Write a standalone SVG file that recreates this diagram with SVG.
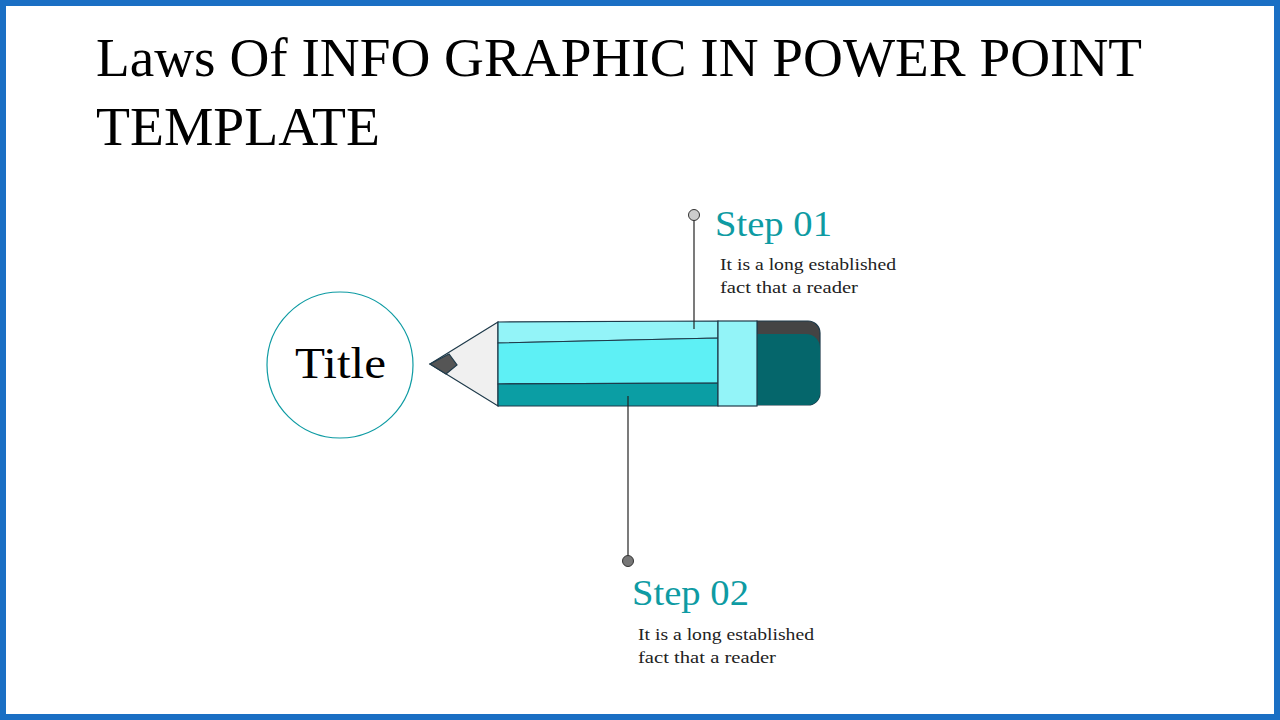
<svg xmlns="http://www.w3.org/2000/svg" width="1280" height="720" viewBox="0 0 1280 720">
<style>
.serif{font-family:"Liberation Serif","DejaVu Serif",serif}
.step{font-size:35px;fill:#0e9ba3}
.desc{font-size:17px;fill:#222}
.ln{stroke:#222;stroke-width:1.2;fill:none}
.o{stroke:#1e3a4a;stroke-width:1.2}
</style>
<rect x="3" y="3" width="1274" height="714" fill="#fff" stroke="#1a6fc4" stroke-width="6"/>
<text class="serif" x="96" y="76" font-size="54" fill="#000" textLength="1046" lengthAdjust="spacingAndGlyphs">Laws Of INFO GRAPHIC IN POWER POINT</text>
<text class="serif" x="96" y="145" font-size="54" fill="#000" textLength="284" lengthAdjust="spacingAndGlyphs">TEMPLATE</text>
<g id="title">
<circle cx="340" cy="365" r="73" fill="#fff" stroke="#0e9ba3" stroke-width="1.2"/>
<text class="serif" x="295" y="378" font-size="45" fill="#000" textLength="91" lengthAdjust="spacingAndGlyphs">Title</text>
</g>
<g id="pencil">
<path d="M757 321 H808 A12 12 0 0 1 820 333 V393 A12 12 0 0 1 808 405 H757 Z" fill="#444" class="o"/>
<path d="M757 334 H806 A14 14 0 0 1 820 348 V393 A12 12 0 0 1 808 405 H757 Z" fill="#05666b"/>
<polygon points="498,322 430,364 498,406" fill="#f0f0f0" class="o"/>
<polygon points="430,364 449,354 457,365 446,374" fill="#555" class="o"/>
<polygon points="498,322 718,321 718,338 498,343" fill="#93f4f8" class="o"/>
<polygon points="498,343 718,338 718,383 498,384" fill="#5ef0f5" class="o"/>
<polygon points="498,384 718,383 718,406 498,406" fill="#0b9ea4" class="o"/>
<rect x="718" y="321" width="39" height="85" fill="#93f4f8" class="o"/>
</g>
<g id="connectors">
<line class="ln" x1="694" y1="215" x2="694" y2="329"/>
<circle cx="694" cy="215" r="5.5" fill="#ccc" stroke="#333"/>
<line class="ln" x1="628" y1="396" x2="628" y2="561"/>
<circle cx="628" cy="561" r="5.5" fill="#777" stroke="#333"/>
</g>
<g id="step1">
<text class="serif step" x="715" y="236" textLength="117" lengthAdjust="spacingAndGlyphs">Step 01</text>
<text class="serif desc" x="720" y="270" textLength="176" lengthAdjust="spacingAndGlyphs">It is a long established</text>
<text class="serif desc" x="720" y="293" textLength="138" lengthAdjust="spacingAndGlyphs">fact that a reader</text>
</g>
<g id="step2">
<text class="serif step" x="632" y="605" textLength="117" lengthAdjust="spacingAndGlyphs">Step 02</text>
<text class="serif desc" x="638" y="640" textLength="176" lengthAdjust="spacingAndGlyphs">It is a long established</text>
<text class="serif desc" x="638" y="663" textLength="138" lengthAdjust="spacingAndGlyphs">fact that a reader</text>
</g>
</svg>
